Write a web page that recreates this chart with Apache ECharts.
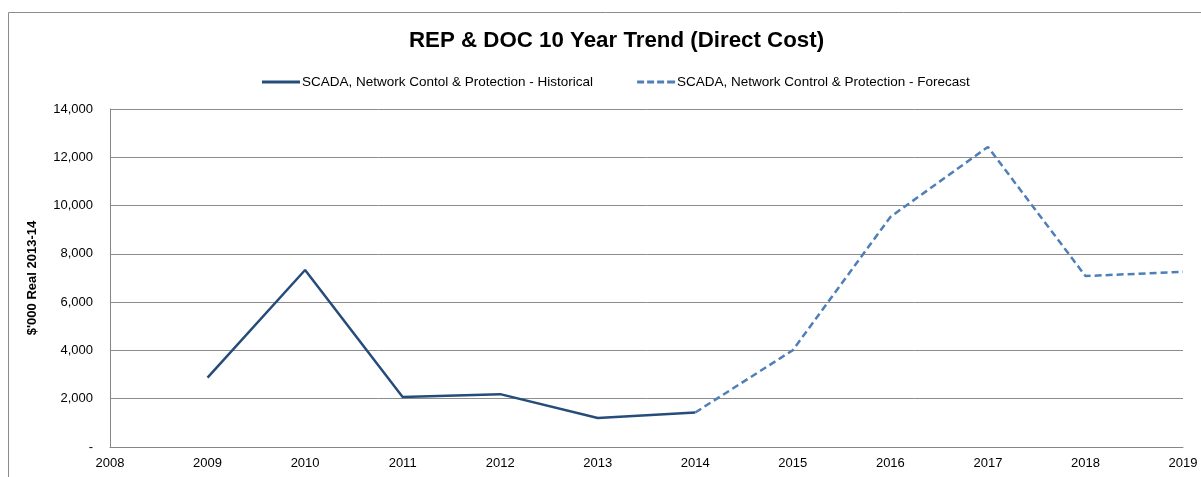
<!DOCTYPE html>
<html>
<head>
<meta charset="utf-8">
<script src="https://cdn.jsdelivr.net/npm/echarts@6/dist/echarts.min.js"></script>
<style>
html,body{margin:0;padding:0;background:#fff;}
#c{width:1201px;height:477px;}
</style>
</head>
<body>
<div id="c"></div>
<script>
var years = [2009, 2010, 2011, 2012, 2013, 2014, 2015, 2016, 2017, 2018, 2019];
var historical = [2870, 7330, 2070, 2190, 1200, 1430, null, null, null, null, null];
var forecast = [null, null, null, null, null, 1430, 4010, 9530, 12430, 7080, 7260];
var seriesNames = ['SCADA, Network Contol & Protection - Historical', 'SCADA, Network Control & Protection - Forecast'];
var titleText = 'REP & DOC 10 Year Trend (Direct Cost)';
var yAxisName = "$'000 Real 2013-14";

function pairs(vals) {
  var out = [];
  for (var i = 0; i < years.length; i++) {
    if (vals[i] !== null) out.push([years[i], vals[i]]);
  }
  return out;
}

var font = 'Liberation Sans';
var solidIcon = 'path://M0 0H38V3H0Z';
var dashIcon = 'path://M0 0H7V3H0Z M10 0H17V3H10Z M20 0H27V3H20Z M30 0H38V3H30Z';
var chart = echarts.init(document.getElementById('c'), null, {renderer: 'canvas'});
chart.setOption({
  backgroundColor: '#fff',
  animation: false,
  graphic: [{
    type: 'rect', silent: true,
    shape: {x: 8.5, y: 12.5, width: 1300, height: 600},
    style: {fill: 'none', stroke: '#8c8c8c', lineWidth: 1}
  }],
  title: {
    text: titleText,
    left: 404, top: 25,
    textStyle: {fontFamily: font, fontWeight: 'bold', fontSize: 22.3, color: '#000'}
  },
  legend: {
    top: 70, left: 257,
    itemWidth: 38, itemHeight: 3, itemGap: 44,
    textStyle: {fontFamily: font, fontSize: 13.5, color: '#000', padding: [0, 0, 0, -3]},
    data: [{name: seriesNames[0], icon: solidIcon}, {name: seriesNames[1], icon: dashIcon}]
  },
  grid: {left: 110, right: 18, top: 109, bottom: 30},
  xAxis: {
    type: 'value', min: 2008, max: 2019, interval: 1,
    axisLine: {lineStyle: {color: '#868686', width: 1}},
    axisTick: {show: false},
    splitLine: {show: false},
    axisLabel: {fontFamily: font, fontSize: 13, color: '#000', margin: 10, formatter: function (v) { return String(v); }}
  },
  yAxis: {
    type: 'value', min: 0, max: 14000, interval: 2000,
    name: yAxisName, nameLocation: 'middle', nameGap: 71, nameRotate: 90,
    nameTextStyle: {fontFamily: font, fontWeight: 'bold', fontSize: 13, color: '#000'},
    axisLine: {show: true, lineStyle: {color: '#868686', width: 1}},
    axisTick: {show: false},
    splitLine: {lineStyle: {color: '#8c8c8c', width: 1}},
    axisLabel: {fontFamily: font, fontSize: 13, color: '#000', margin: 17,
      formatter: function (v) { return v === 0 ? '-' : v.toLocaleString('en-US'); }}
  },
  series: [{
    name: seriesNames[0], type: 'line', data: pairs(historical),
    symbol: 'none', showSymbol: false,
    lineStyle: {color: '#254C7B', width: 2.5},
    itemStyle: {color: '#254C7B'}
  }, {
    name: seriesNames[1], type: 'line', data: pairs(forecast),
    symbol: 'none', showSymbol: false,
    lineStyle: {color: '#4F7FB8', width: 2.5, type: [7, 4]},
    itemStyle: {color: '#4F7FB8'}
  }]
});
</script>
</body>
</html>
